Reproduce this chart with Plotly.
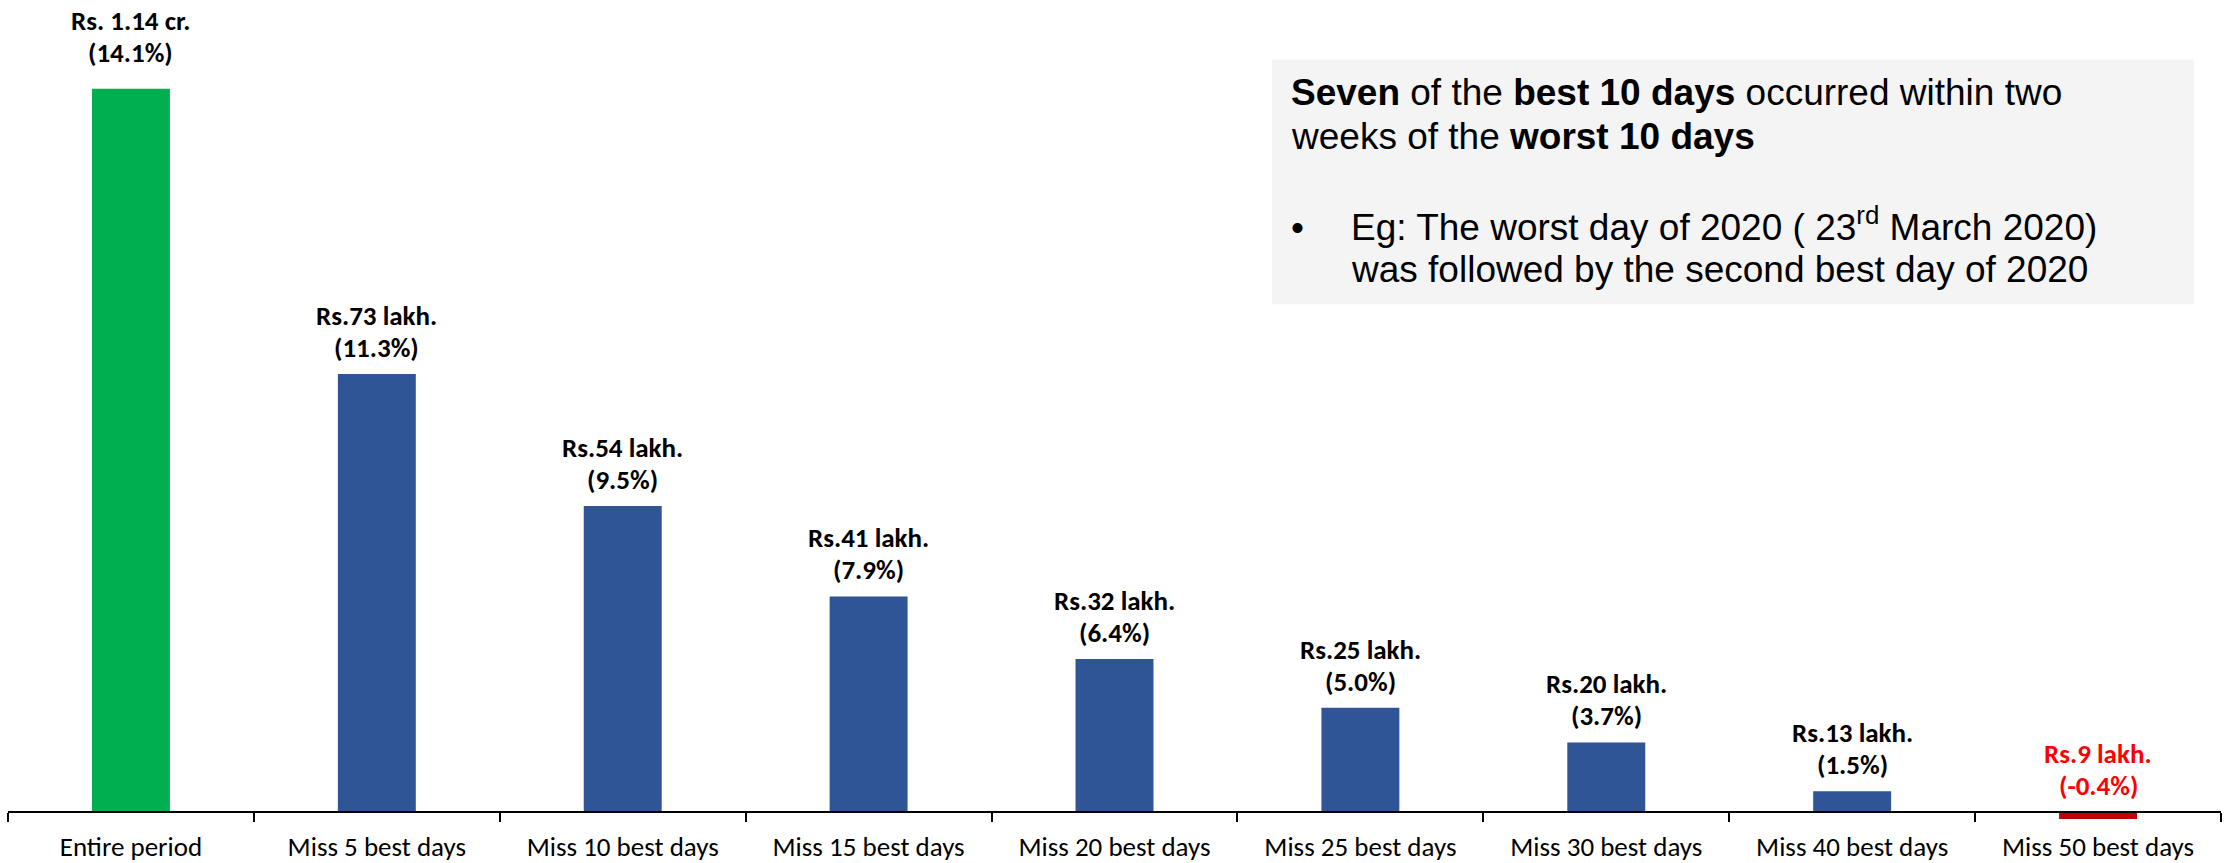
import plotly.graph_objects as go

categories = ["Entire period", "Miss 5 best days", "Miss 10 best days", "Miss 15 best days",
              "Miss 20 best days", "Miss 25 best days", "Miss 30 best days",
              "Miss 40 best days", "Miss 50 best days"]
values_lakh = [114, 73, 54, 41, 32, 25, 20, 13, 9]
value_labels = ["Rs. 1.14 cr.", "Rs.73 lakh.", "Rs.54 lakh.", "Rs.41 lakh.", "Rs.32 lakh.",
                "Rs.25 lakh.", "Rs.20 lakh.", "Rs.13 lakh.", "Rs.9 lakh."]
cagr_labels = ["(14.1%)", "(11.3%)", "(9.5%)", "(7.9%)", "(6.4%)", "(5.0%)", "(3.7%)",
               "(1.5%)", "(-0.4%)"]
initial_investment = 10

box_lines = [
    "<b>Seven</b> of the <b>best 10 days</b> occurred within two",
    "weeks of the <b>worst 10 days</b>",
]
bullet_lines = [
    "Eg: The worst day of 2020 ( 23<sup>rd</sup> March 2020)",
    "was followed by the second best day of 2020",
]

W, H = 2224, 863
ML, MR, MT, MB = 8, 3, 0, 33
PW, PH = W - ML - MR, H - MT - MB
AXIS_PX = 814          # pixel row of the zero-gain line
TOP_PX = 89            # pixel row of the tallest bar
k = (AXIS_PX - TOP_PX) / (max(values_lakh) - initial_investment)
y_top = initial_investment + (AXIS_PX - MT) / k
y_bot = initial_investment - (H - MB - AXIS_PX) / k
axis_pos = (H - MB - AXIS_PX) / PH

def px(x):
    return (x - ML) / PW

def py(y):
    return (H - MB - y) / PH

colors = []
for i, v in enumerate(values_lakh):
    if i == 0:
        colors.append("#00b050")
    elif v < initial_investment:
        colors.append("#c00000")
    else:
        colors.append("#2f5597")

FONT = "Carlito, Calibri, Lato, sans-serif"
LBL = 27

fig = go.Figure(go.Bar(
    x=categories,
    y=[v - initial_investment for v in values_lakh],
    base=initial_investment,
    marker=dict(color=colors, line=dict(width=0)),
    width=0.317,
    hoverinfo="skip",
))

for i, c in enumerate(categories):
    v = values_lakh[i]
    col = "#ff0000" if v < initial_investment else "#000000"
    extra = 10 if i == 0 else 0
    for j, t in enumerate([cagr_labels[i], value_labels[i]]):
        fig.add_annotation(
            x=c, y=max(v, initial_investment), xref="x", yref="y",
            text=f"<b>{t}</b>",
            showarrow=False, yanchor="bottom", yshift=8 + extra + 32 * j,
            font=dict(family=FONT, size=LBL, color=col), align="center",
        )

# grey text box
fig.add_shape(type="rect", xref="paper", yref="paper",
              x0=px(1272), x1=px(2194), y0=py(305), y1=py(60),
              fillcolor="#f4f4f4", line=dict(width=0), layer="below")

TF = "Liberation Sans, Arial, sans-serif"
TS = 37
desc = 0.23 * TS
for t, base in zip(box_lines, [107, 151]):
    fig.add_annotation(
        xref="paper", yref="paper", x=px(1289), y=py(base + desc),
        xanchor="left", yanchor="bottom", text=t, showarrow=False, align="left",
        font=dict(family=TF, size=TS, color="#000000"),
    )
fig.add_annotation(
    xref="paper", yref="paper", x=px(1289), y=py(242 + desc),
    xanchor="left", yanchor="bottom", text="•", showarrow=False, align="left",
    font=dict(family=TF, size=TS, color="#000000"),
)
for t, base in zip(bullet_lines, [242, 284]):
    fig.add_annotation(
        xref="paper", yref="paper", x=px(1349), y=py(base + desc),
        xanchor="left", yanchor="bottom", text=t, showarrow=False, align="left",
        font=dict(family=TF, size=TS, color="#000000"),
    )

fig.update_layout(
    width=W, height=H,
    margin=dict(l=ML, r=MR, t=MT, b=MB),
    paper_bgcolor="white", plot_bgcolor="white",
    showlegend=False,
    xaxis=dict(
        anchor="free", position=axis_pos,
        showline=True, linecolor="#000000", linewidth=2,
        ticks="outside", tickson="boundaries", ticklen=9, tickwidth=2, tickcolor="#000000",
        showgrid=False, zeroline=False,
        tickfont=dict(family=FONT, size=27, color="#000000"),
        ticklabelstandoff=11,
        range=[-0.5, len(categories) - 0.5],
    ),
    yaxis=dict(range=[y_bot, y_top], visible=False, showgrid=False, zeroline=False),
)

fig.write_html("out.html")
